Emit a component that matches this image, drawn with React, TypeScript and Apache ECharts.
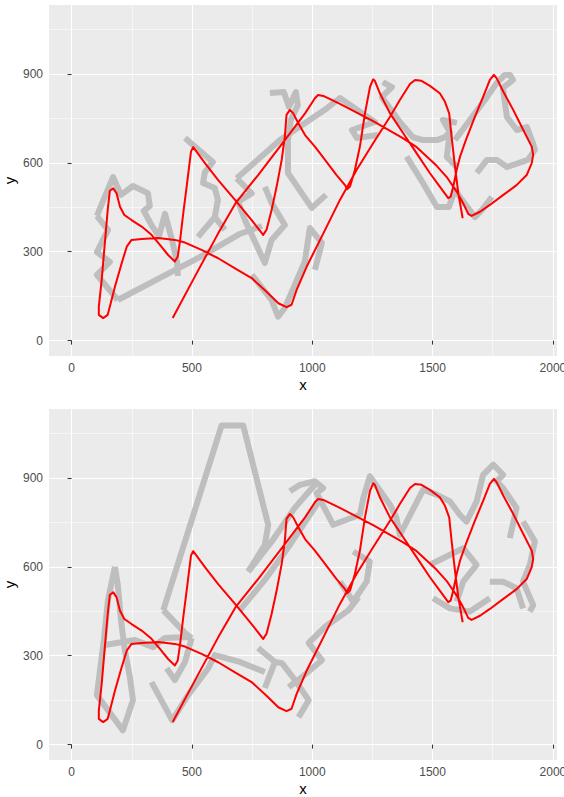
import React, { useEffect, useRef } from "react";
import * as echarts from "echarts";

// ---- data ----
const xTicks = [0, 500, 1000, 1500, 2000];
const yTicks = [0, 300, 600, 900];
const X_MIN = -94;
const X_MAX = 2017;
const Y_MIN = -52;
const Y_MAX = 1133;

// smooth (red) trajectory, same in both panels
const redPath: number[][] = [
  [420, 76], [512, 216], [609, 362], [683, 466], [775, 559], [886, 677], [970, 767], [1011, 818], [1024, 829],
  [1046, 826], [1115, 799], [1253, 741], [1378, 683], [1434, 653], [1517, 590], [1558, 553], [1600, 503],
  [1627, 464], [1648, 428], [1662, 421], [1697, 435], [1738, 458], [1794, 492], [1849, 525], [1891, 559],
  [1912, 599], [1918, 627], [1912, 655], [1877, 711], [1835, 779], [1794, 840], [1766, 886], [1755, 897],
  [1738, 880], [1710, 823], [1676, 756], [1641, 683], [1614, 621], [1600, 576], [1586, 520], [1575, 486],
  [1565, 481], [1530, 520], [1489, 565], [1434, 632], [1378, 700], [1323, 767], [1281, 835], [1260, 877],
  [1253, 882], [1240, 857], [1219, 767], [1198, 655], [1177, 576], [1157, 520], [1145, 511], [1136, 525],
  [1101, 559], [1053, 610], [1011, 655], [970, 694], [942, 734], [921, 767], [907, 779], [893, 762],
  [886, 688], [873, 610], [852, 520], [831, 441], [810, 374], [796, 357], [748, 407], [679, 475],
  [609, 542], [554, 599], [519, 638], [505, 653], [496, 638], [478, 520], [464, 430], [450, 334],
  [441, 284], [429, 267], [401, 289], [367, 323], [332, 357], [291, 385], [249, 407], [219, 424],
  [201, 452], [187, 497], [173, 514], [159, 506], [150, 441], [138, 329], [125, 205], [113, 115],
  [113, 87], [131, 76], [150, 87], [159, 115], [180, 182], [208, 261], [229, 317], [249, 340],
  [291, 343], [360, 346], [429, 340], [471, 331], [540, 306], [609, 278], [679, 244], [748, 211],
  [810, 165], [859, 126], [893, 113], [914, 121], [935, 171], [977, 250], [1046, 362], [1115, 475],
  [1184, 576], [1253, 666], [1323, 756], [1364, 812], [1406, 866], [1427, 880], [1454, 877], [1489, 860],
  [1530, 835], [1551, 807], [1569, 767], [1579, 688], [1593, 587], [1607, 497], [1625, 413],
];

// noisy (grey) trajectory, top panel
const greyTop: number[][][] = [
  [[105, 421], [172, 552], [205, 492], [255, 522], [317, 498], [325, 455], [300, 438], [334, 387], [363, 353],
    [388, 428], [417, 340], [438, 266], [442, 218]],
  [[105, 421], [151, 374], [105, 299], [159, 266], [105, 222], [192, 137]],
  [[192, 137], [367, 212], [533, 282], [699, 360], [791, 387]],
  [[471, 684], [587, 603], [554, 569], [546, 532], [595, 515], [608, 475], [595, 417], [525, 350]],
  [[595, 417], [637, 374]],
  [[686, 548], [748, 497], [692, 469], [720, 407], [803, 262], [831, 340], [886, 390], [831, 465], [803, 519]],
  [[749, 222], [831, 137], [858, 81], [886, 110], [969, 266], [990, 380], [1040, 330], [1011, 239]],
  [[824, 836], [882, 839], [903, 789], [932, 839], [940, 795], [911, 745], [899, 677], [899, 566], [998, 448],
    [1057, 492]],
  [[686, 548], [866, 677], [1052, 779], [1115, 819], [1260, 738], [1165, 711], [1185, 684], [1273, 694]],
  [[1293, 873], [1331, 856], [1289, 822], [1364, 738], [1418, 687], [1460, 677], [1518, 677], [1551, 687],
    [1572, 704], [1543, 745], [1601, 735]],
  [[1572, 704], [1559, 620], [1601, 586]],
  [[1392, 621], [1460, 532], [1518, 451], [1568, 451], [1593, 509], [1622, 475], [1676, 417], [1705, 441],
    [1746, 485]],
  [[1593, 677], [1655, 745], [1726, 822], [1767, 870], [1800, 897], [1821, 897], [1834, 880], [1792, 853],
    [1809, 755], [1850, 711], [1892, 721], [1917, 667], [1925, 644], [1896, 610], [1809, 586], [1767, 610],
    [1726, 610], [1684, 566]],
];

// noisy (grey) trajectory, bottom panel
const greyBottom: number[][][] = [
  [[381, 454], [623, 1077], [713, 1077], [817, 742], [803, 674], [734, 584]],
  [[381, 454], [471, 377], [499, 359]],
  [[180, 600], [151, 488], [134, 353], [118, 251], [105, 167], [213, 48], [255, 150], [242, 228], [221, 319],
    [205, 421], [192, 539], [180, 600]],
  [[138, 336], [263, 353], [338, 329], [388, 360], [483, 363], [499, 359]],
  [[395, 258], [429, 218], [471, 279], [499, 360]],
  [[332, 211], [418, 82], [484, 167], [568, 258], [595, 302], [699, 279], [803, 245]],
  [[775, 326], [845, 279], [874, 275], [928, 218], [985, 150], [943, 92]],
  [[845, 279], [803, 191]],
  [[902, 194], [957, 228], [1040, 285], [985, 343], [1052, 397], [1151, 454], [1192, 498]],
  [[1115, 550], [1170, 483], [1226, 550], [1239, 618], [1170, 652]],
  [[734, 584], [831, 685], [928, 800], [1011, 877]],
  [[699, 454], [803, 556], [907, 674], [1032, 827]],
  [[907, 855], [949, 877], [1011, 889], [1045, 866], [1018, 849], [1087, 742], [1198, 776], [1212, 832],
    [1239, 906], [1323, 810], [1350, 765], [1364, 708], [1461, 861], [1517, 844], [1572, 821], [1613, 776],
    [1641, 753], [1683, 821], [1710, 911], [1752, 945], [1793, 911], [1766, 889], [1793, 866], [1849, 799],
    [1821, 697]],
  [[1876, 753], [1925, 686], [1904, 607], [1876, 550], [1918, 471], [1904, 449]],
  [[1738, 550], [1793, 550], [1849, 528], [1876, 460]],
  [[1489, 607], [1627, 663], [1683, 607], [1627, 550], [1600, 483]],
  [[1502, 494], [1572, 460], [1655, 449], [1738, 494]],
];

const FONT = "'Liberation Sans', Arial, Helvetica, sans-serif";
const fmt = (v: number) => String(v);

function makeX(gridIndex: number) {
  return {
    type: "value",
    gridIndex,
    min: X_MIN,
    max: X_MAX,
    splitNumber: 4,
    name: "x",
    nameLocation: "middle",
    nameGap: 21,
    nameTextStyle: { color: "#000000", fontSize: 15, fontFamily: FONT },
    axisLine: { show: false },
    axisTick: { show: true, length: 4, lineStyle: { color: "#333333", width: 1 }, customValues: xTicks },
    axisLabel: { color: "#4D4D4D", fontSize: 12, fontFamily: FONT, margin: 6, customValues: xTicks, formatter: fmt },
    splitLine: { show: true, lineStyle: { color: "#FFFFFF", width: 1.1 } },
    minorTick: { show: false, splitNumber: 2 },
    minorSplitLine: { show: true, lineStyle: { color: "#FFFFFF", width: 0.55 } },
  };
}

function makeY(gridIndex: number) {
  return {
    type: "value",
    gridIndex,
    min: Y_MIN,
    max: Y_MAX,
    splitNumber: 4,
    name: "y",
    nameLocation: "middle",
    nameGap: 32,
    nameMoveOverlap: false,
    nameTextStyle: { color: "#000000", fontSize: 15, fontFamily: FONT },
    axisLine: { show: false },
    axisTick: { show: true, length: 4, lineStyle: { color: "#333333", width: 1 }, customValues: yTicks },
    axisLabel: { color: "#4D4D4D", fontSize: 12, fontFamily: FONT, margin: 6, customValues: yTicks, formatter: fmt },
    splitLine: { show: true, lineStyle: { color: "#FFFFFF", width: 1.1 } },
    minorTick: { show: false, splitNumber: 2 },
    minorSplitLine: { show: true, lineStyle: { color: "#FFFFFF", width: 0.55 } },
  };
}

function greySeries(paths: number[][][], idx: number) {
  return paths.map((p) => ({
    type: "line",
    xAxisIndex: idx,
    yAxisIndex: idx,
    data: p,
    showSymbol: false,
    symbol: "none",
    silent: true,
    lineStyle: { color: "#BEBEBE", width: 6, cap: "butt", join: "round" },
  }));
}

function redSeries(idx: number) {
  return {
    type: "line",
    xAxisIndex: idx,
    yAxisIndex: idx,
    data: redPath,
    showSymbol: false,
    symbol: "none",
    silent: true,
    lineStyle: { color: "#FF0000", width: 2, join: "round" },
  };
}

export default function App() {
  const ref = useRef<HTMLDivElement>(null);
  useEffect(() => {
    if (!ref.current) return;
    const chart = echarts.init(ref.current, undefined, { renderer: "svg" });
    chart.setOption({
      animation: false,
      backgroundColor: "#FFFFFF",
      grid: [
        { left: 49, top: 5, width: 508, height: 351, show: true, backgroundColor: "#EBEBEB", borderWidth: 0, containLabel: false, outerBoundsMode: "none" },
        { left: 49, top: 409, width: 508, height: 351, show: true, backgroundColor: "#EBEBEB", borderWidth: 0, containLabel: false, outerBoundsMode: "none" },
      ],
      xAxis: [makeX(0), makeX(1)],
      yAxis: [makeY(0), makeY(1)],
      series: [
        ...greySeries(greyTop, 0),
        redSeries(0),
        ...greySeries(greyBottom, 1),
        redSeries(1),
      ],
    });
    return () => chart.dispose();
  }, []);
  return <div ref={ref} style={{ position: "absolute", left: 0, top: 0, width: 564, height: 797 }} />;
}
